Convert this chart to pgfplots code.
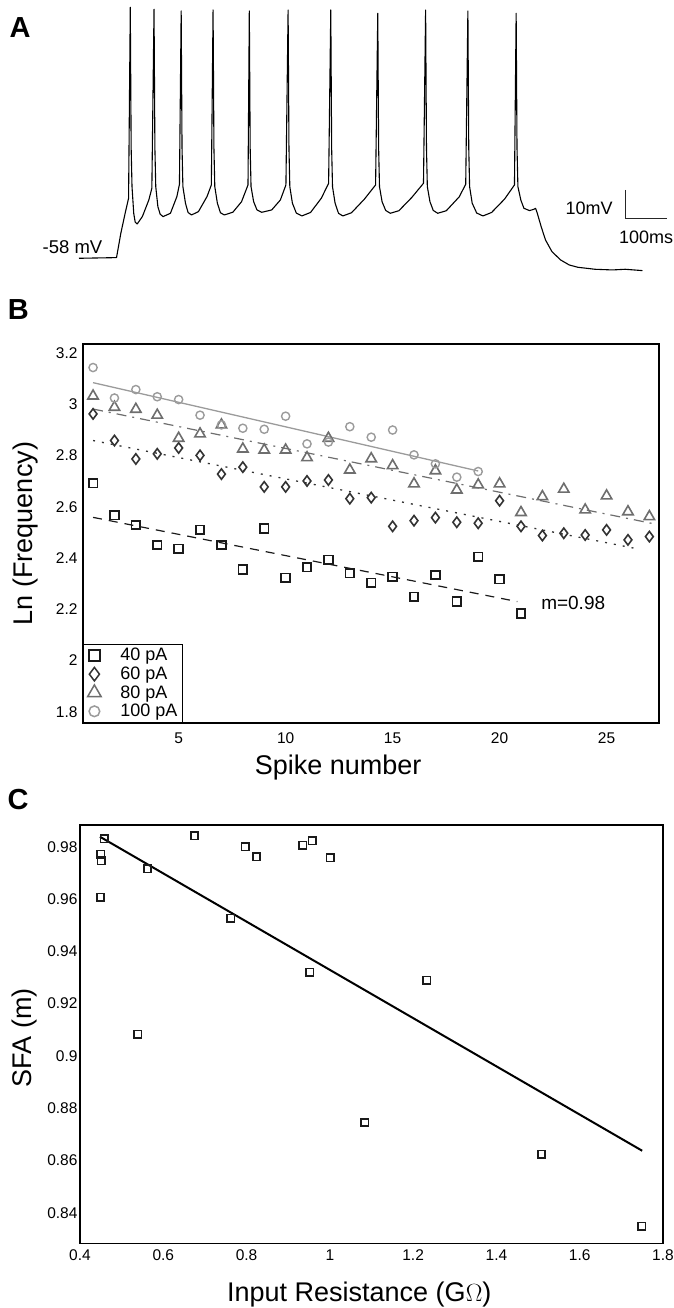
\documentclass[border=0pt]{standalone}
\usepackage{fontspec}
\setmainfont{Liberation Sans}
\usepackage{pgfplots}
\pgfplotsset{compat=1.18}
\definecolor{cA}{HTML}{1A1A1A}
\definecolor{cB}{HTML}{333333}
\definecolor{cC}{HTML}{6E6E6E}
\definecolor{cD}{HTML}{9B9B9B}
\pgfplotsset{
  panel/.style={
    scale only axis, anchor=south west,
    axis line style={black, line width=1.1pt},
    tick style={draw=none},
    /pgf/number format/assume math mode=true,
    tick label style={font=\fontsize{15.5}{16}\selectfont},
    label style={font=\fontsize{27}{28}\selectfont},
  }
}
\begin{document}
\begin{tikzpicture}
\useasboundingbox (0,0) rectangle (674pt,1308pt);
% panel letters
\node[font=\fontsize{29}{29}\selectfont\bfseries, inner sep=0pt] at (20pt,1280pt) {A};
\node[font=\fontsize{29}{29}\selectfont\bfseries, inner sep=0pt] at (18.3pt,998.5pt) {B};
\node[font=\fontsize{29}{29}\selectfont\bfseries, inner sep=0pt] at (18pt,508pt) {C};

% ---------------- Panel A ----------------
\begin{axis}[at={(79pt,1029.4pt)}, anchor=south west, scale only axis,
  width=590.4pt, height=275.5pt, xmin=0, xmax=1440, ymin=-65, ymax=30,
  hide axis, clip=false]
\addplot[black, line width=1.1pt, line join=round] coordinates {
(0,-58) (91.5,-57.77) (102,-49.4) (112.5,-42.5) (120.9,-37.3)
(125.1,28.55) (127.2,-20) (129.3,-33.3) (133.5,-42.5) (137,-45.5) (142,-46.16) (154.6,-43.6) (170.3,-37.9) (177.7,-33.86)
(183,27.86) (185.1,-20) (187.2,-33.3) (192.4,-40.2) (198,-42.8) (205,-43.63) (223,-42.48) (238.7,-36.74) (245,-32.48)
(249.2,27.29) (251.3,-20) (253.4,-33.3) (259.7,-39.03) (266,-42.2) (274.4,-43.06) (291.3,-41.91) (312.3,-36.7) (322.8,-32.71)
(327,27.63) (329.1,-20) (331.2,-33.3) (337.5,-39.0) (345,-42.3) (354.4,-43.06) (375.4,-42.1) (396.4,-38.5) (412.2,-32.71)
(415.4,27.29) (417.5,-20) (419.6,-33.3) (425.9,-38.46) (434,-41.3) (445.8,-42.14) (470,-41.33) (491.1,-37.9) (504.7,-32.71)
(510,27.63) (512.1,-20) (514.2,-33.3) (520.5,-39.0) (530,-42.4) (543.6,-43.40) (564.7,-42.2) (591,-37.3) (608.8,-32.14)
(614.1,27.63) (616.2,-20) (618.3,-33.3) (624.6,-39.0) (633,-42.5) (643.5,-43.40) (664.6,-42.3) (696.1,-37.6) (723.4,-32.71)
(728.7,26.48) (730.8,-20) (732.9,-33.3) (739.2,-38.5) (748,-41.5) (759.2,-42.48) (780.2,-41.6) (811.8,-37.0) (840.2,-32.14)
(845.4,27.63) (847.5,-20) (849.6,-33.3) (856,-38.5) (864,-41.5) (874.9,-42.48) (895.9,-41.6) (927.4,-36.8) (943.2,-32.48)
(948.5,27.29) (950.6,-20) (952.7,-33.3) (959,-39.0) (970,-42.4) (985.3,-43.40) (1006.3,-42.2) (1037.9,-37.6) (1062.1,-32.71)
(1066.2,26.48) (1068.3,-20) (1070.5,-33.3) (1077.8,-38.0) (1085.2,-40.76) (1098.8,-41.56) (1109.4,-41.1) (1113.6,-40.76)
(1117.8,-42.48) (1127.2,-47.08) (1137.8,-51.68) (1153.5,-55.7) (1174.6,-58.57) (1195.6,-60.3) (1216.6,-61.1)
(1258.7,-61.79) (1300.7,-62.02) (1332.3,-61.79) (1374.3,-62.25)
};
% scale bar
\addplot[black!85, line width=1pt] coordinates {(1334,-34.45) (1334,-44.45) (1434,-44.45)};
\node[anchor=east, inner sep=0pt, font=\fontsize{18}{18}\selectfont] at (axis cs:1302,-40.7) {10mV};
\node[anchor=center, inner sep=0pt, font=\fontsize{18}{18}\selectfont] at (axis cs:1383,-50.66) {100ms};
\node[anchor=center, inner sep=0pt, font=\fontsize{18.5}{18.5}\selectfont] at (axis cs:-15.9,-54.1) {-58 mV};
\end{axis}

% ---------------- Panel B ----------------
\begin{axis}[panel, at={(83pt,585pt)}, width=576pt, height=379pt,
  xmin=0.53, xmax=27.45, ymin=1.756, ymax=3.236,
  xtick={5,10,15,20,25}, ytick={1.8,2,2.2,2.4,2.6,2.8,3,3.2},
  xticklabel style={yshift=-6pt}, yticklabel style={xshift=-2pt},
  xlabel={Spike number}, ylabel={Ln (Frequency)},
  xlabel style={at={(axis description cs:0.443,-0.137)}, anchor=base},
  ylabel style={at={(axis description cs:-0.0868,0.5)}, anchor=base},
  legend style={at={(0,0)}, anchor=south west, draw=black, line width=0.8pt, fill=white,
    font=\fontsize{18}{18}\selectfont, row sep=0pt, column sep=0pt, inner xsep=3pt, inner ysep=2pt,
    nodes={inner sep=2pt, text depth=0.2em}},
  legend image code/.code={\path[draw=none, fill=none] (0pt,-5pt) rectangle (32pt,5pt); \draw[#1] plot[mark options={scale=1.3, line width=1.5pt}] coordinates {(8pt,0pt)};},
  legend cell align=left,
  clip=false]
\addplot[only marks, mark=square, mark size=4.3pt, cA, mark options={line width=1.7pt}] coordinates {
(1,2.692) (2,2.568) (3,2.529) (4,2.451) (5,2.436) (6,2.510) (7,2.451) (8,2.355) (9,2.516) (10,2.323)
(11,2.364) (12,2.393) (13,2.341) (14,2.304) (15,2.327) (16,2.249) (17,2.334) (18,2.230) (19,2.405) (20,2.317) (21,2.184)};
\addlegendentry{40 pA}
\addplot[only marks, mark=diamond, mark size=5.2pt, cB, mark options={line width=1.6pt}] coordinates {
(1,2.963) (2,2.859) (3,2.787) (4,2.807) (5,2.830) (6,2.801) (7,2.728) (8,2.755) (9,2.678) (10,2.678)
(11,2.701) (12,2.705) (13,2.632) (14,2.636) (15,2.524) (16,2.546) (17,2.558) (18,2.540) (19,2.536) (20,2.624)
(21,2.524) (22,2.488) (23,2.497) (24,2.490) (25,2.510) (26,2.471) (27,2.484)};
\addlegendentry{60 pA}
\addplot[only marks, mark=triangle, mark size=6pt, cC, mark options={line width=1.6pt}] coordinates {
(1,3.033) (2,2.989) (3,2.981) (4,2.958) (5,2.868) (6,2.885) (7,2.920) (8,2.826) (9,2.822) (10,2.822)
(11,2.792) (12,2.868) (13,2.744) (14,2.788) (15,2.761) (16,2.690) (17,2.741) (18,2.666) (19,2.686) (20,2.690)
(21,2.578) (22,2.640) (23,2.669) (24,2.588) (25,2.643) (26,2.581) (27,2.562)};
\addlegendentry{80 pA}
\addplot[only marks, mark=o, mark size=4.1pt, cD, mark options={line width=1.4pt}] coordinates {
(1,3.144) (2,3.025) (3,3.058) (4,3.030) (5,3.019) (6,2.958) (7,2.920) (8,2.907) (9,2.903) (10,2.954)
(11,2.846) (12,2.853) (13,2.913) (14,2.872) (15,2.900) (16,2.803) (17,2.768) (18,2.716) (19,2.738)};
\addlegendentry{100 pA}
\addplot[forget plot, cA, line width=1.2pt, dash pattern=on 9pt off 7pt] coordinates {(1,2.559) (20.83,2.230)};
\addplot[forget plot, cB, line width=1.3pt, dash pattern=on 2pt off 7pt] coordinates {(1,2.859) (26.56,2.434)};
\addplot[forget plot, cC, line width=1.2pt, dash pattern=on 10pt off 6pt on 2pt off 6pt] coordinates {(1,2.982) (27.26,2.533)};
\addplot[forget plot, cD, line width=1.3pt] coordinates {(1,3.085) (19,2.740)};
\node[anchor=center, inner sep=0pt, font=\fontsize{19}{19}\selectfont] at (axis cs:23.44,2.223) {m=0.98};
\end{axis}

% ---------------- Panel C ----------------
\begin{axis}[panel, at={(80pt,64.7pt)}, width=583pt, height=418.3pt,
  xmin=0.4, xmax=1.8, ymin=0.8283, ymax=0.9883,
  xtick={0.4,0.6,0.8,1,1.2,1.4,1.6,1.8}, ytick={0.84,0.86,0.88,0.9,0.92,0.94,0.96,0.98},
  xticklabel style={yshift=-3pt}, yticklabel style={xshift=1pt},
  xlabel={Input Resistance (G$\Omega$)}, ylabel={SFA (m)},
  xlabel style={at={(axis description cs:0.479,-0.1397)}, anchor=base},
  ylabel style={at={(axis description cs:-0.0828,0.491)}, anchor=base},
  clip=false]
\addplot[only marks, mark=square, mark size=3.7pt, cA, mark options={line width=1.6pt}] coordinates {
(0.458,0.9830) (0.450,0.9772) (0.451,0.9746) (0.449,0.9607) (0.562,0.9715) (0.675,0.9841)
(0.762,0.9527) (0.797,0.9800) (0.824,0.9762) (0.935,0.9805) (0.958,0.9823) (0.952,0.9320)
(1.001,0.9758) (0.539,0.9083) (1.233,0.9290) (1.084,0.8745) (1.508,0.8624) (1.749,0.8348)};
\addplot[black, line width=2pt] coordinates {(0.448,0.9838) (1.750,0.8637)};
\end{axis}
\end{tikzpicture}
\end{document}
